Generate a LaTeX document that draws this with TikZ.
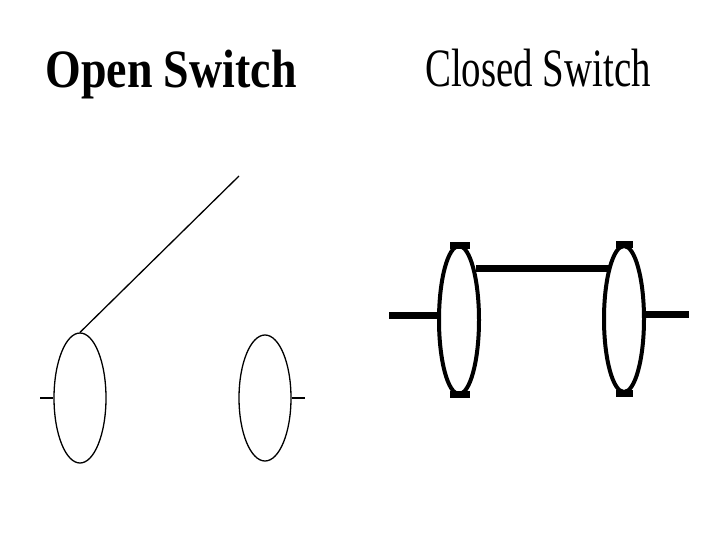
\documentclass[tikz,border=0pt]{standalone}
\usetikzlibrary{shapes.geometric}
\usepackage{fontspec}
\setmainfont{Liberation Serif}
\begin{document}
\begin{tikzpicture}[x=1pt,y=-1pt,
  thinline/.style={line width=1.3pt},
  capline/.style={line width=7pt},
  title/.style={font=\fontsize{54}{54}\selectfont, inner sep=0}]
\useasboundingbox (0,0) rectangle (720,540);
\node[title, xscale=0.85] (t1) at (171,75) {\textbf{Open Switch}};
\node[title, xscale=0.72] (t2) at (538,68) {Closed Switch};
% open switch
\node[draw, thinline, ellipse, minimum width=52pt, minimum height=130pt, inner sep=0] (e1) at (80,398) {};
\node[draw, thinline, ellipse, minimum width=52pt, minimum height=126pt, inner sep=0] (e2) at (265,398) {};
\coordinate (l1) at (40,398);
\coordinate (r2) at (305,398);
\coordinate (tip) at (239,176);
\draw[thinline] (l1) -- (e1.west);
\draw[thinline] (e2.east) -- (r2);
\draw[thinline] (e1.north) -- (tip);
% closed switch
\draw[line width=4pt] (459,320) ellipse (20 and 74);
\draw[line width=4pt] (624,319) ellipse (20 and 73);
\coordinate (ll) at (389,315);
\coordinate (rr) at (689,314);
\draw[capline] (ll) -- (439,315);
\draw[capline] (644,314) -- (rr);
\draw[capline] (476,268) -- (610,268);
\draw[capline] (450,245) -- (470,245);
\draw[capline] (450,394) -- (470,394);
\draw[capline] (616,244) -- (633,244);
\draw[capline] (616,393) -- (633,393);
\end{tikzpicture}
\end{document}
